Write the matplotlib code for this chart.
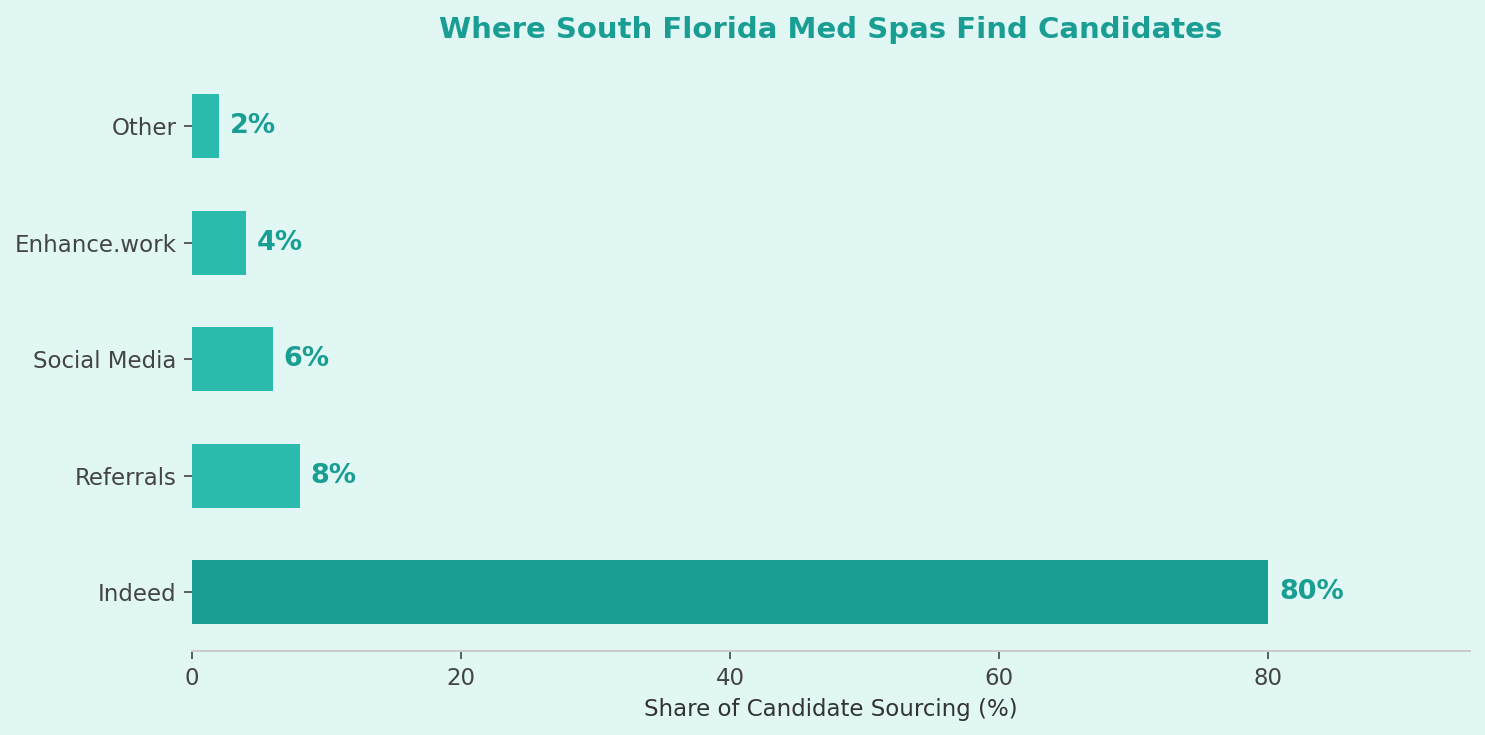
import matplotlib
matplotlib.use("Agg")
import matplotlib.pyplot as plt

categories = ["Indeed", "Referrals", "Social Media", "Enhance.work", "Other"]
values = [80, 8, 6, 4, 2]
bar_colors = ["#1a9e94", "#2bbbad", "#2bbbad", "#2bbbad", "#2bbbad"]

bg = "#e0f7f3"
fig = plt.figure(figsize=(9.9, 4.9), dpi=150, facecolor=bg)
ax = fig.add_axes([0.1293, 0.1143, 0.8606, 0.7939])
ax.set_facecolor(bg)

bars = ax.barh(categories, values, height=0.55, color=bar_colors)
for b, v in zip(bars, values):
    ax.text(b.get_width() + 0.8, b.get_y() + b.get_height() / 2, f"{v}%",
            va="center", ha="left", fontsize=13, fontweight="bold", color="#1a9e94")

ax.set_xlim(0, 95)
ax.set_xticks([0, 20, 40, 60, 80])
for s in ["top", "right", "left"]:
    ax.spines[s].set_visible(False)
ax.spines["bottom"].set_color("#cccccc")
ax.spines["bottom"].set_linewidth(1.0)
ax.tick_params(axis="both", colors="#444444", labelsize=11, length=4)
ax.set_xlabel("Share of Candidate Sourcing (%)", fontsize=11, color="#333333")
ax.set_title("Where South Florida Med Spas Find Candidates", fontsize=14,
             fontweight="bold", color="#1a9e94", pad=14)

fig.savefig("out.png", dpi=150, facecolor=bg)
